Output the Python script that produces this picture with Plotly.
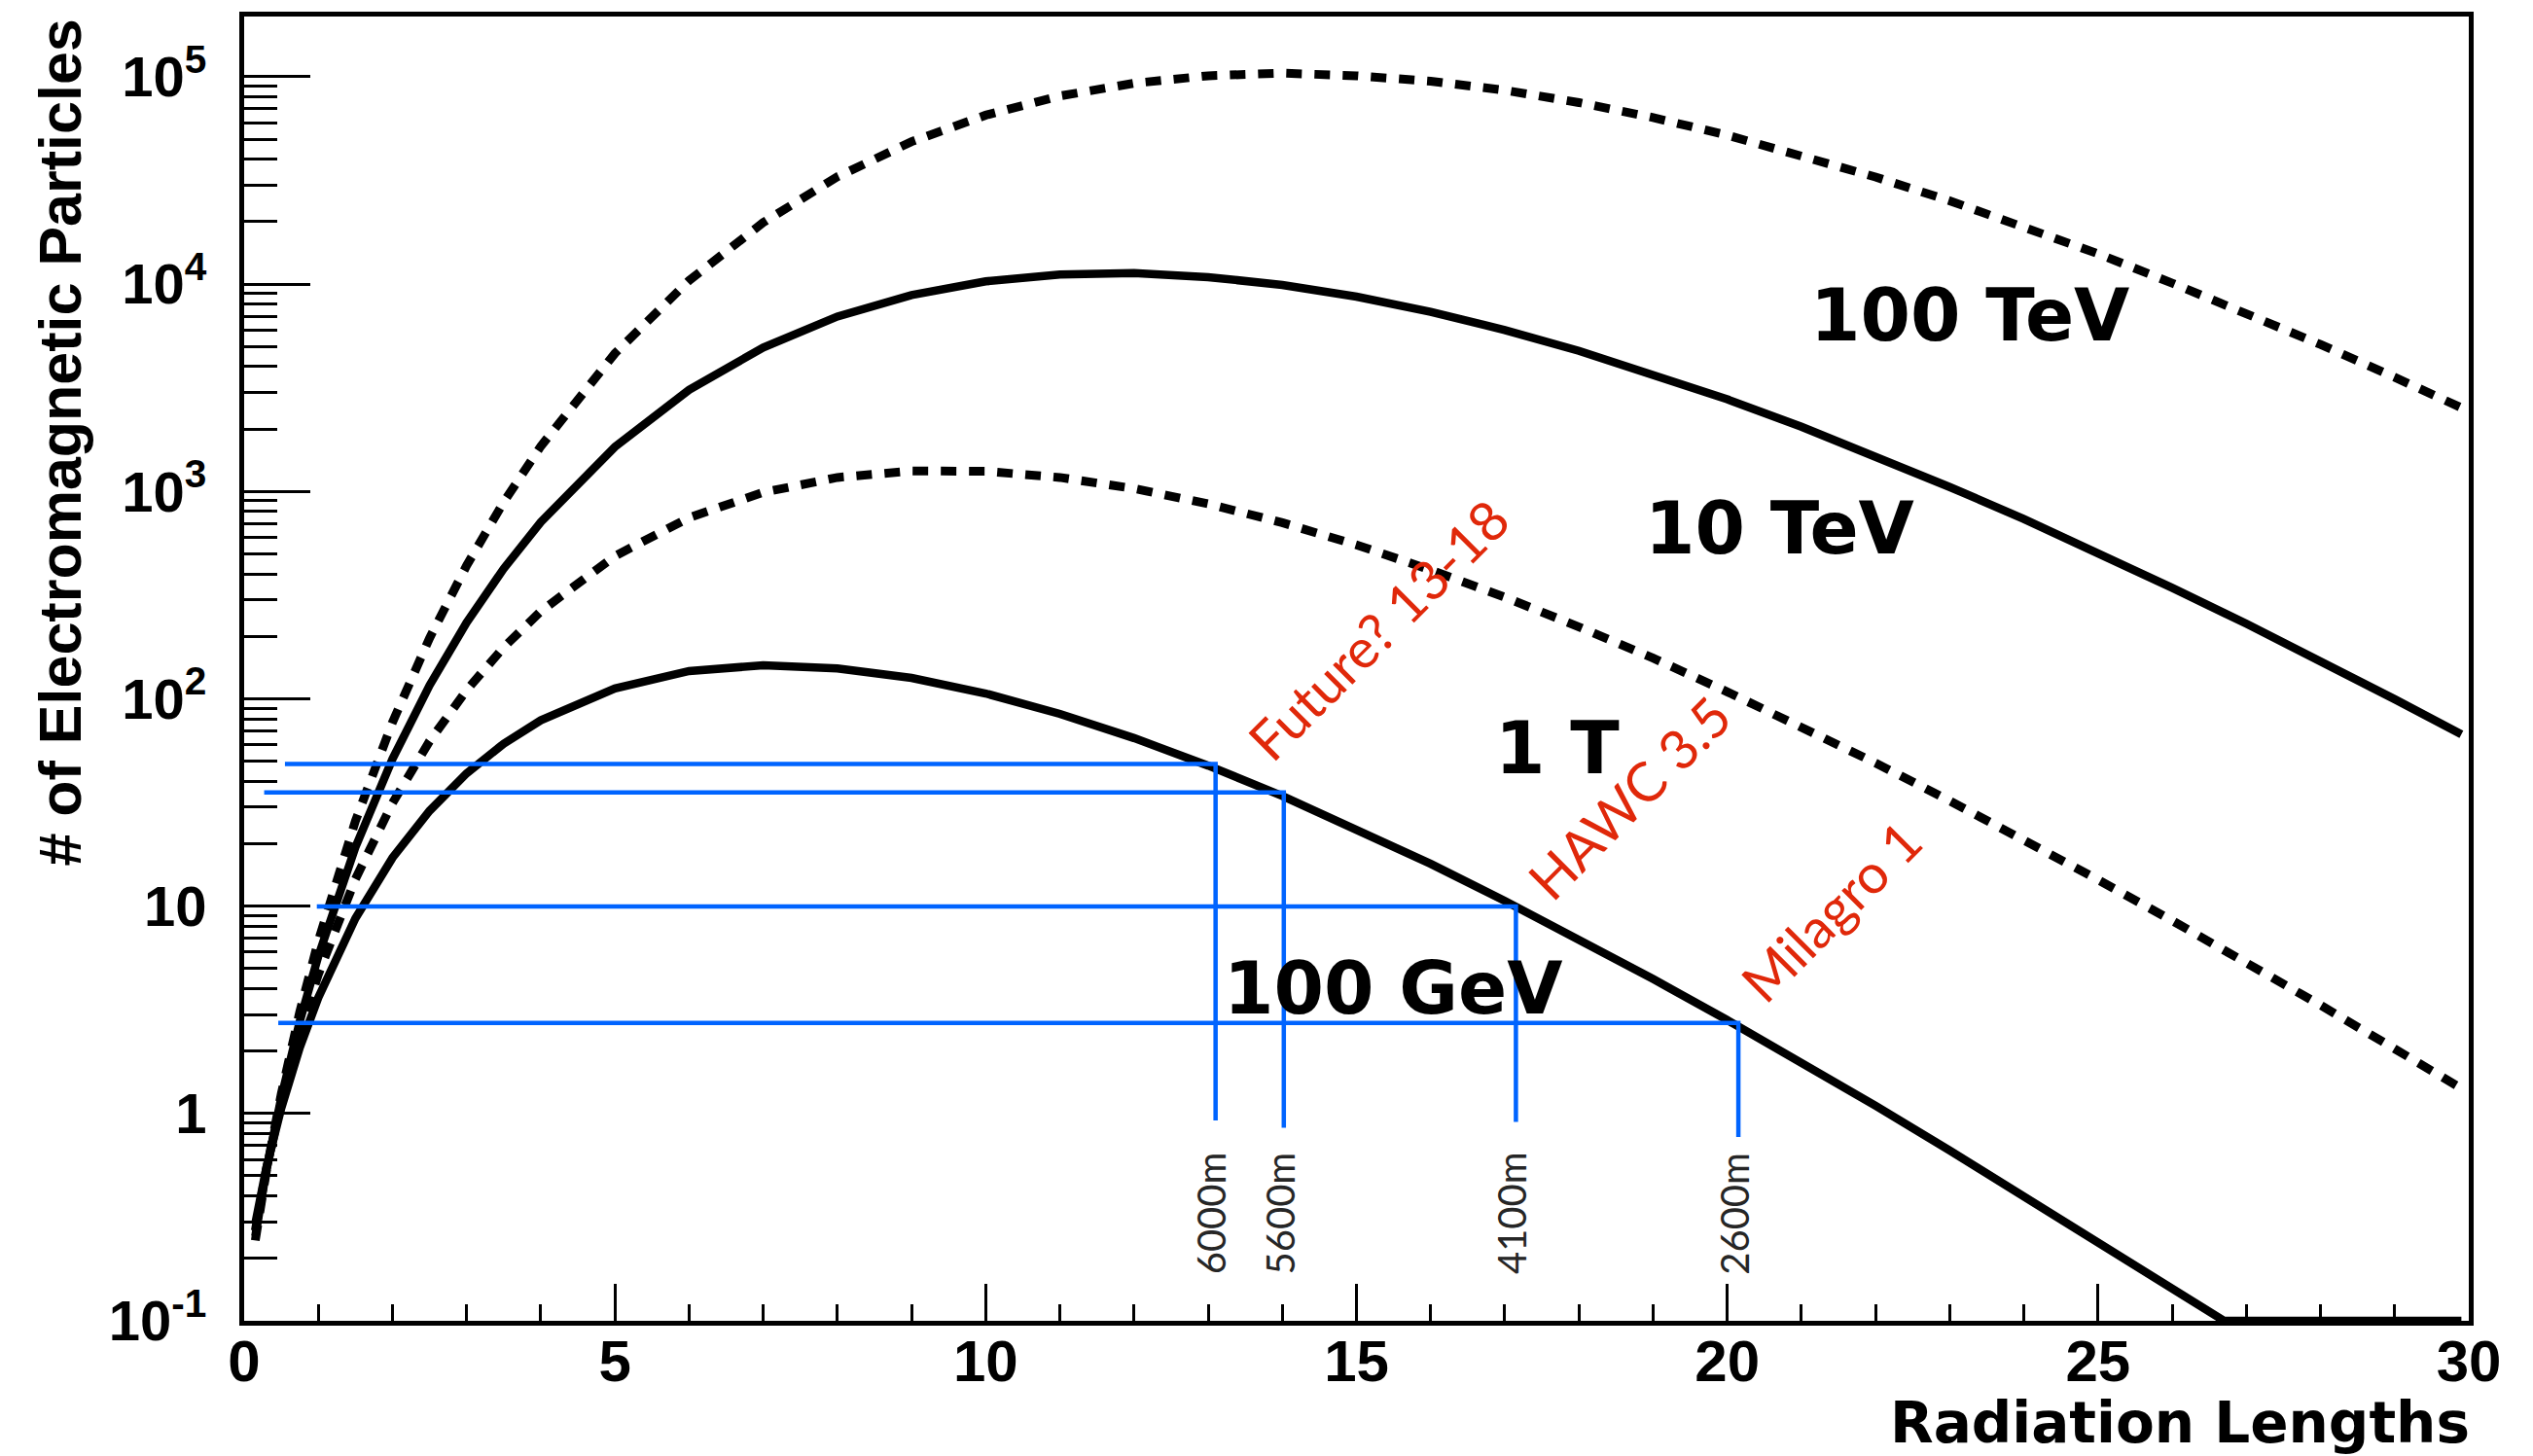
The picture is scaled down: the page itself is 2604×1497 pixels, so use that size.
import numpy as np
import plotly.graph_objects as go

# ---------------- data ----------------
depth = [0.15, 0.3, 0.5, 0.75, 1, 1.5, 2, 2.5, 3, 3.5, 4, 5, 6, 7, 8, 9, 10, 11, 12,
         13, 14, 15, 16, 17, 18, 19, 20, 21, 22, 23, 24, 25, 26, 27, 28, 29, 29.9]

n_100GeV = [0.294, 0.548, 1.06, 2.08, 3.62, 8.73, 17.1, 28.8, 43.7, 60.7, 78.7, 112, 136,
            145, 140, 126, 106, 84.5, 64.6, 47.6, 34.0, 23.6, 16.0, 10.6, 6.94, 4.45, 2.82,
            1.76, 1.09, 0.663, 0.400, 0.240, 0.143, 0.0843, 0.0495, 0.0288, 0.0176]

n_1TeV = [0.272, 0.540, 1.13, 2.44, 4.68, 13.5, 31.4, 62.4, 110, 177, 264, 488, 747, 989,
          1167, 1255, 1250, 1167, 1032, 871, 706, 552, 418, 309, 222, 157, 108, 73.3, 49.0,
          32.2, 20.9, 13.4, 8.51, 5.35, 3.33, 2.05, 1.32]

n_10TeV = [0.256, 0.533, 1.19, 2.78, 5.73, 19.2, 51.2, 116, 233, 424, 711, 1640, 3090, 4940,
           6970, 8850, 10300, 11100, 11300, 10800, 9900, 8690, 7340, 6000, 4760, 3680, 2780,
           2050, 1480, 1050, 736, 506, 343, 230, 152, 99.5, 67.3]

n_100TeV = [0.244, 0.528, 1.24, 3.09, 6.79, 25.7, 77.0, 196, 439, 888, 1650, 4630, 10400,
            19800, 32900, 48600, 65200, 80700, 93000, 101000, 104000, 101000, 95100, 86000,
            75000, 63500, 52200, 41900, 32800, 25200, 18900, 14000, 10100, 7250, 5110, 3550,
            2530]

energy_labels = ["100 TeV", "10 TeV", "1 T", "100 GeV"]

site_altitudes = ["6000m", "5600m", "4100m", "2600m"]
site_depth = [13.10, 14.02, 17.15, 20.15]
site_particles = [48.4, 35.3, 9.97, 2.73]
site_line_start = [0.55, 0.27, 0.98, 0.46]
site_line_bottom = [0.925, 0.853, 0.91, 0.77]

experiment_labels = ["Future? 13-18", "HAWC 3.5", "Milagro 1"]

y_tick_vals = [0.1, 1, 10, 100, 1000, 10000, 100000]
y_tick_text = ["10<sup>-1</sup>", "1", "10", "10<sup>2</sup>", "10<sup>3</sup>",
               "10<sup>4</sup>", "10<sup>5</sup>"]

# ---------------- figure ----------------
Y_MIN = 0.1
fig = go.Figure()

DOT = "16px,13px"
curves = [
    (n_100TeV, DOT, 9),
    (n_10TeV, "solid", 8.5),
    (n_1TeV, DOT, 9),
    (n_100GeV, "solid", 8.5),
]
for vals, dash, lw in curves:
    # like ROOT, values below the frame minimum are drawn on the frame
    yv = np.maximum(np.array(vals, dtype=float), Y_MIN)
    xv = list(depth)
    if vals is n_100GeV:
        # the curve reaches the bottom of the frame at ~26.7
        xv = depth[:33] + [26.7] + depth[33:]
        yv = np.concatenate([yv[:33], [Y_MIN], yv[33:]])
    fig.add_trace(go.Scatter(x=xv, y=yv, mode="lines",
                             line=dict(color="black", width=lw, dash=dash),
                             hoverinfo="skip", showlegend=False))

BLUE = "#0064ff"
for i in range(len(site_depth)):
    fig.add_trace(go.Scatter(
        x=[site_line_start[i], site_depth[i], site_depth[i]],
        y=[site_particles[i], site_particles[i], site_line_bottom[i]],
        mode="lines", line=dict(color=BLUE, width=4.5),
        hoverinfo="skip", showlegend=False))

annotations = []
BOLD_WIDE = dict(family="DejaVu Sans", size=74, color="black", weight="bold")
label_pos = [(23.27, 3.850, "center"), (20.70, 2.824, "center"),
             (16.84, 1.762, "left"), (15.49, 0.604, "center")]
for txt, (lx, ly, anc) in zip(energy_labels, label_pos):
    annotations.append(dict(x=lx, y=ly, xref="x", yref="y", text=txt, showarrow=False,
                            xanchor=anc, yanchor="middle", font=BOLD_WIDE))

RED = "#e0280a"
red_pos = [(15.30, 2.335), (18.68, 1.524), (21.40, 0.975)]
for txt, (lx, ly) in zip(experiment_labels, red_pos):
    annotations.append(dict(x=lx, y=ly, xref="x", yref="y", text=txt, showarrow=False,
                            textangle=-45, xanchor="center", yanchor="middle",
                            font=dict(family="Lato", size=56, color=RED)))

for i, txt in enumerate(site_altitudes):
    annotations.append(dict(x=site_depth[i] - 0.05, y=np.log10(0.33), xref="x", yref="y",
                            text=txt, showarrow=False, textangle=-90,
                            xanchor="center", yanchor="middle",
                            font=dict(family="Lato", size=40, color="#262626")))

# axis titles (ROOT style: aligned to the axis ends)
annotations.append(dict(x=-0.0826, y=0.9993, xref="paper", yref="paper",
                        text="# of Electromagnetic Particles", showarrow=False,
                        textangle=-90, xanchor="center", yanchor="top",
                        font=dict(family="Liberation Sans", size=61, color="black",
                                  weight="bold")))
annotations.append(dict(x=1.0013, y=-0.0785, xref="paper", yref="paper",
                        text="Radiation Lengths", showarrow=False,
                        xanchor="right", yanchor="middle",
                        font=dict(family="DejaVu Sans", size=58, color="black",
                                  weight="bold")))

minor_y = [k * 10.0 ** e for e in range(-1, 5) for k in range(2, 10)] + [2e5]

fig.update_layout(
    width=2604, height=1497,
    margin=dict(l=251, r=66, t=13, b=139, pad=0),
    paper_bgcolor="white", plot_bgcolor="white",
    annotations=annotations,
    xaxis=dict(range=[0, 30], dtick=5, tick0=0, ticks="inside", ticklen=38, tickwidth=3,
               tickcolor="black", showgrid=False, zeroline=False,
               showline=True, linewidth=5, linecolor="black", mirror=True,
               minor=dict(dtick=1, ticks="inside", ticklen=17, tickwidth=3,
                          tickcolor="black", showgrid=False),
               tickfont=dict(family="Liberation Sans", size=60, color="black",
                             weight="bold"),
               ticklabelstandoff=-15),
    yaxis=dict(type="log", range=[-1, 5.29], tickmode="array", tickvals=y_tick_vals,
               ticktext=y_tick_text, ticks="inside", ticklen=68, tickwidth=3,
               tickcolor="black", showgrid=False, zeroline=False,
               showline=True, linewidth=5, linecolor="black", mirror=True,
               minor=dict(tickmode="array", tickvals=minor_y, ticks="inside",
                          ticklen=34, tickwidth=3, tickcolor="black", showgrid=False),
               tickfont=dict(family="Liberation Sans", size=58, color="black",
                             weight="bold"),
               ticklabelstandoff=22),
)

fig.write_html("out.html", config={"displayModeBar": False},
               post_script="document.body.style.margin='0';")
